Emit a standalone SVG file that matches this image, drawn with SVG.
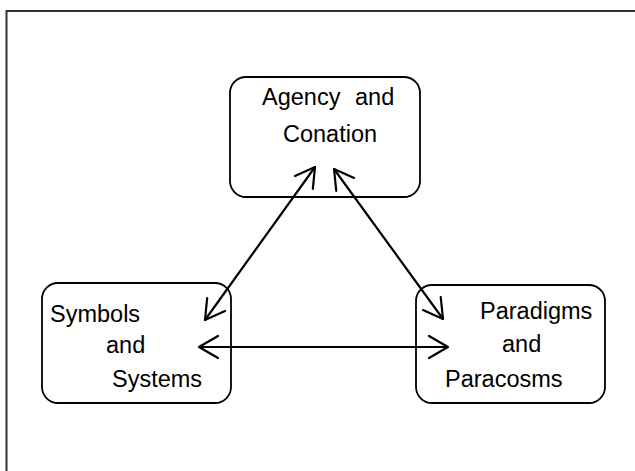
<svg xmlns="http://www.w3.org/2000/svg" width="635" height="471" viewBox="0 0 635 471">
<style>
.box{fill:#fff;stroke:#000;stroke-width:1.8}
.t{font-family:"Liberation Sans",Arial,sans-serif;font-size:23.5px;fill:#000}
.c{stroke:#000;stroke-width:2.2;fill:none}
.h{stroke:#000;stroke-width:2.2;fill:none;stroke-linecap:round;stroke-linejoin:round}
</style>
<defs>
<marker id="ah" viewBox="-22 -13 24 26" markerWidth="24" markerHeight="26" refX="0" refY="0" orient="auto-start-reverse" markerUnits="userSpaceOnUse">
<path d="M-19,-11 L0,0 L-19,11" class="h"/>
</marker>
</defs>
<rect width="635" height="471" fill="#fff"/>
<path d="M6.5,471 V11 H635" fill="none" stroke="#333" stroke-width="2"/>
<g id="agency">
<rect class="box" x="230" y="77" width="190" height="120" rx="16"/>
<text class="t" x="262" y="105">Agency</text>
<text class="t" x="355" y="105">and</text>
<text class="t" x="283" y="142">Conation</text>
</g>
<g id="symbols">
<rect class="box" x="42" y="283" width="189" height="120" rx="16"/>
<text class="t" x="50" y="322">Symbols</text>
<text class="t" x="106" y="353">and</text>
<text class="t" x="112" y="387">Systems</text>
</g>
<g id="paradigms">
<rect class="box" x="416" y="285" width="189" height="118" rx="16"/>
<text class="t" x="480" y="319">Paradigms</text>
<text class="t" x="502" y="352">and</text>
<text class="t" x="445" y="387">Paracosms</text>
</g>
<g id="connectors">
<line class="c" x1="315" y1="167" x2="205" y2="320" marker-start="url(#ah)" marker-end="url(#ah)"/>
<line class="c" x1="334" y1="169" x2="443" y2="319" marker-start="url(#ah)" marker-end="url(#ah)"/>
<line class="c" x1="199" y1="347" x2="448" y2="347" marker-start="url(#ah)" marker-end="url(#ah)"/>
</g>
</svg>
